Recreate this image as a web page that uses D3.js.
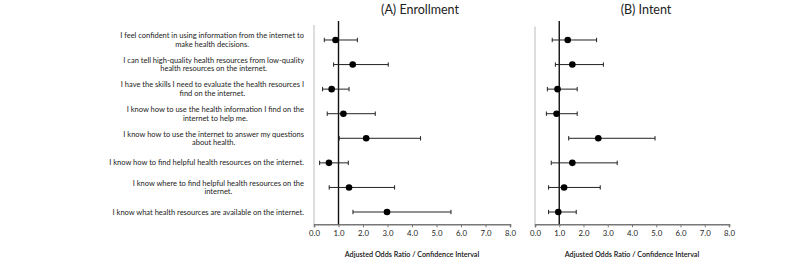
<!DOCTYPE html>
<html>
<head>
<meta charset="utf-8">
<script src="https://cdn.jsdelivr.net/npm/d3@7"></script>
<style>
  body { margin: 0; background: #fff; }
  svg { display: block; font-family: Lato, "Open Sans", sans-serif; }
</style>
</head>
<body>
<div id="chart"></div>
<script>
// items, each split into the lines shown in the figure
const items = [
  ["I feel confident in using information from the internet to", "make health decisions."],
  ["I can tell high-quality health resources from low-quality", "health resources on the internet."],
  ["I have the skills I need to evaluate the health resources I", "find on the internet."],
  ["I know how to use the health information I find on the", "internet to help me."],
  ["I know how to use the internet to answer my questions", "about health."],
  ["I know how to find helpful health resources on the internet."],
  ["I know where to find helpful health resources on the", "internet."],
  ["I know what health resources are available on the internet."]
];

const enrollOR = [0.88, 1.58, 0.72, 1.20, 2.13, 0.61, 1.43, 2.98];
const enrollLo = [0.42, 0.80, 0.35, 0.54, 1.03, 0.23, 0.62, 1.59];
const enrollHi = [1.77, 3.03, 1.43, 2.50, 4.35, 1.40, 3.29, 5.59];

const intentOR = [1.35, 1.54, 0.93, 0.89, 2.61, 1.54, 1.20, 0.96];
const intentLo = [0.71, 0.84, 0.51, 0.47, 1.39, 0.67, 0.56, 0.56];
const intentHi = [2.54, 2.82, 1.74, 1.74, 4.95, 3.39, 2.69, 1.70];

const xTicks = [0, 1, 2, 3, 4, 5, 6, 7, 8];
const panelTitles = ["(A) Enrollment", "(B) Intent"];
const axisTitle = "Adjusted Odds Ratio / Confidence Interval";

const width = 800, height = 260;
const plotTop = 27.7, plotBottom = 224.3;

const svg = d3.select("#chart").append("svg")
  .attr("width", width)
  .attr("height", height);

const y = d3.scaleBand()
  .domain(d3.range(items.length))
  .range([plotTop, plotBottom]);

// labels on the left: each block right aligned, lines centred on the first one
const labelRight = 304;
items.forEach((lines, i) => {
  const cy = y(i) + y.bandwidth() / 2;
  const g = svg.append("g").attr("fill", "#222").style("font-size", "7.5px");
  const first = g.append("text")
    .attr("x", labelRight)
    .attr("y", cy - (lines.length - 1) * 4.3)
    .attr("dy", "0.35em")
    .attr("text-anchor", "end")
    .text(lines[0]);
  const w = first.node().getComputedTextLength();
  lines.slice(1).forEach((l, k) => {
    g.append("text")
      .attr("x", labelRight - w / 2)
      .attr("y", cy - (lines.length - 1) * 4.3 + (k + 1) * 8.6)
      .attr("dy", "0.35em")
      .attr("text-anchor", "middle")
      .text(l);
  });
});

const panels = [
  { x0: 314, x1: 510, or: enrollOR, lo: enrollLo, hi: enrollHi, title: panelTitles[0], yTop: 25, shift: 8 },
  { x0: 535, x1: 729, or: intentOR, lo: intentLo, hi: intentHi, title: panelTitles[1], yTop: 26.5, shift: 14 }
];

panels.forEach((p) => {
  const x = d3.scaleLinear().domain([0, 8]).range([p.x0, p.x1]);
  const g = svg.append("g");

  // left frame line
  g.append("line")
    .attr("x1", x(0)).attr("x2", x(0))
    .attr("y1", p.yTop).attr("y2", plotBottom)
    .attr("stroke", "#bbb").attr("stroke-width", 1);

  // x axis
  const ax = g.append("g")
    .attr("transform", `translate(0,${plotBottom})`)
    .call(d3.axisBottom(x).tickValues(xTicks).tickFormat(d3.format(".1f")).tickSize(3).tickSizeOuter(3));
  ax.select(".domain").attr("stroke", "#777").attr("stroke-width", 1.6);
  ax.selectAll(".tick line").attr("stroke", "#777");
  ax.selectAll(".tick text")
    .attr("fill", "#222")
    .attr("y", 6)
    .style("font-size", "7.8px")
    .style("font-family", "Lato, sans-serif");

  // reference line at OR = 1
  g.append("line")
    .attr("x1", x(1)).attr("x2", x(1))
    .attr("y1", 21).attr("y2", plotBottom)
    .attr("stroke", "#111").attr("stroke-width", 1.4);

  const rows = g.selectAll(".row")
    .data(d3.range(items.length))
    .join("g")
    .attr("class", "row")
    .attr("transform", (i) => `translate(0,${y(i) + y.bandwidth() / 2})`);

  rows.append("line")
    .attr("x1", (i) => x(p.lo[i])).attr("x2", (i) => x(p.hi[i]))
    .attr("stroke", "#222").attr("stroke-width", 1);
  rows.append("line")
    .attr("x1", (i) => x(p.lo[i])).attr("x2", (i) => x(p.lo[i]))
    .attr("y1", -2.2).attr("y2", 2.2)
    .attr("stroke", "#222").attr("stroke-width", 1);
  rows.append("line")
    .attr("x1", (i) => x(p.hi[i])).attr("x2", (i) => x(p.hi[i]))
    .attr("y1", -2.2).attr("y2", 2.2)
    .attr("stroke", "#222").attr("stroke-width", 1);
  rows.append("circle")
    .attr("cx", (i) => x(p.or[i]))
    .attr("r", 3.3)
    .attr("fill", "#000");

  // panel title
  g.append("text")
    .attr("x", (x(0) + x(8)) / 2 + p.shift)
    .attr("y", 10)
    .attr("dy", "0.35em")
    .attr("text-anchor", "middle")
    .attr("fill", "#222")
    .style("font-size", "12.5px")
    .text(p.title);

  // axis title
  g.append("text")
    .attr("x", (x(0) + x(8)) / 2)
    .attr("y", 254)
    .attr("dy", "0.35em")
    .attr("text-anchor", "middle")
    .attr("fill", "#111")
    .style("font-size", "7.2px")
    .style("font-weight", 600)
    .text(axisTitle);
});
</script>
</body>
</html>
